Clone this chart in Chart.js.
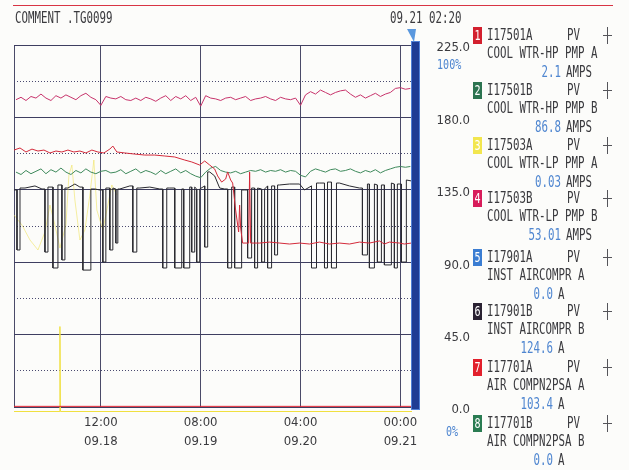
<!DOCTYPE html>
<html>
<head>
<meta charset="utf-8">
<script src="https://cdn.jsdelivr.net/npm/chart.js@4.4.0/dist/chart.umd.min.js"></script>
<style>
  html, body { margin: 0; padding: 0; background: #fcfcfa; }
</style>
</head>
<body>
<canvas id="myChart" width="629" height="470"></canvas>
<script>
// time axis: hours relative to 09.21 00:00, screen ends at 09.21 02:20
var hours = [-77,-76,-75,-74,-73,-72,-71,-70,-69,-68,-67,-66,-65,-64,-63,-62,-61,-60,-59,-58,
  -57,-56,-55,-54,-53,-52,-51,-50,-49,-48,-47,-46,-45,-44,-43,-42,-41,-40,-39,-38,
  -37,-36,-35,-34,-33,-32,-31,-30,-29,-28,-27,-26,-25,-24,-23,-22,-21,-20,-19,-18,
  -17,-16,-15,-14,-13,-12,-11,-10,-9,-8,-7,-6,-5,-4,-3,-2,-1,0,1,2]
var tickHours = [-60, -40, -20, 0]
var tickTimes = ['12:00', '08:00', '04:00', '00:00']
var tickDates = ['09.18', '09.19', '09.20', '09.21']
var yTicks = [0, 45, 90, 135, 180, 225]

// pen 4 (magenta) and pen 2 (green), one reading per hour, display units 0-225
var pen4Vals = [191,192.5,190.5,193,192,194.5,192,190.5,193.5,192,194,192.5,191,193.5,195,192.5,191,187.5,
  193,192,191.5,193,191,190.5,192,190.5,192.5,191.5,190,192,193.5,190.5,193,191.5,193.5,190.5,192.5,
  187,
  193.5,192,191.5,190.5,192,192.5,191,192,193,190.5,191.5,192,193,191.5,190.5,192.5,191.5,191,192,
  187.5,
  194,196,194.5,197,195.5,194,195.5,196.5,197,194.5,192.5,194,192,193.5,195,193,194.5,195.5,198,198.5,197.5,198]
var pen2Vals = [146,144.5,147,145,146.5,148,145,147.5,146,148.5,146,144.5,147,145.5,148,146,145,146.5,
  147,145.5,146,147.5,145,146.5,148,145.5,147,146,144.5,147,145,146.5,148,145.5,147,145,143.5,
  142.5,146,148.5,149.5,147,146,145.5,146.5,145,146,147,146.5,147.5,146,147,146.5,147.5,146,147,146.5,
  144,143,146.5,148,147,146,147.5,148,146.5,147,148,146.5,145.5,147,146,147.5,145.5,147,148,149,149.5,149,149.5]

// pen 7 (red) - irregular readings
var pen7Hours = [-77.4,-76.2,-75,-73.8,-72.6,-71.4,-70.2,-69,-67.8,-66.6,-65.4,-64.2,-63,-61.8,-60.6,-59.4,
  -58.2,-57.6,-56.8,-55.2,-53.2,-51.2,-49.2,-47.2,-45.2,-43.2,-41.8,-40.2,-39.2,-38.2,-37.2,-36.6,
  -35.8,-35,-34.6,-34,-33.6,-33,-32.4,-32.2,-32,-31.6,-30.4,-30.2,-30,-28.2,-26.2,-24.2,-22.2,-20.2,
  -18.2,-16.2,-14.2,-12.2,-10.2,-8.2,-6.2,-4.2,-3.2,-2.2,-0.2,0.8,2.2]
var pen7Vals = [159.7,161,158.5,160.3,159.1,159.7,157.9,159.1,158.5,159.7,158.5,159.1,157.9,159.7,158.5,157.9,
  160.3,162.2,158.5,157.9,157.2,156.6,156.6,156,155.4,153.5,152.3,150.4,152.9,150.4,147.9,143.6,
  139.8,141.7,146.1,141.1,139.2,122.4,108.8,125.5,111.2,101.9,101.9,146.1,101.9,101.9,102.5,101.9,101.3,101.9,
  101.3,102.5,101.3,101.9,101.3,102.5,101.9,103.2,101.3,102.5,101.9,101.3,101.9]

// pen 6 (black) - running level plus drop-outs
var pen6BaseHours = [-77.4,-75.2,-73.2,-71.8,-70.2,-68.2,-66.6,-65.2,-64.2,-61.2,-60.2,-58.2,-56.2,-54.2,-52.2,
  -50.2,-48.2,-46.2,-44.2,-42.2,-40.2,-39.2,-38.2,-37.2,-36.2,-35.2,-33.2,-31.2,-29.2,-27.2,-26.2,
  -24.2,-22.2,-20.2,-19.2,-17.8,-16.2,-14.2,-12.2,-10.2,-8.2,-6.2,-4.2,-2.2,-0.2,0.8,2.2]
var pen6BaseVals = [134.9,136.1,137.4,135.5,136.7,138,136.1,138.6,136.7,135.5,134.9,136.1,135.5,137.4,136.1,
  136.7,135.5,136.1,135.5,136.7,135.5,137.4,146.1,143.6,136.1,135.5,136.7,134.9,136.1,135.5,137.4,
  138,138.6,138.6,134.9,137.4,139.2,139.8,139.2,137.4,136.1,138.6,138,139.2,138.6,141.1,140.5]
var pen6DropStart = [-76.8,-71.2,-69.6,-67.8,-63.6,-59.6,-58.2,-57,-53.6,-47.6,-45.2,-43.4,-41.8,-40.8,-39.2,
  -34.6,-33.2,-30.6,-29.2,-27.8,-26.6,-25.2,-17.8,-15.2,-13.8,-7.6,-6.2,-4.6,-3.2,-1.2,0.2]
var pen6DropEnd = [-76.2,-70.6,-68.6,-67.2,-62,-59,-57.6,-56.6,-52.8,-46.8,-43.8,-42.2,-41.2,-40.2,-38.6,
  -33.8,-31.8,-29.8,-28.6,-27.2,-25.8,-24.6,-16.8,-14.6,-12.8,-6.6,-5.2,-3.8,-1.8,-0.6,1.2]
var pen6DropLow = [97.6,96.3,86.4,91.4,85.1,90.1,97.6,101.9,96.3,86.4,86.4,86.4,96.3,90.1,99.4,
  86.4,86.4,92.6,86.4,90.1,86.4,94.5,86.4,86.4,86.4,94.5,86.4,90.1,88.3,86.4,90.1]

// pen 3 (yellow) - faded older trace on the left, then resting on zero with one spike
var pen3OldHours = [-77.4,-75.8,-74.2,-72.6,-71.2,-70.2,-69.2,-68.2,-67,-66.4,-65.8,-65.2,-64.2,-63.2,-62.2,-61.4,-60.8,-59.6,-58.6,-57.8,-56.8]
var pen3OldVals = [119.3,113.1,103.8,97.6,108.8,125.5,113.1,98.8,113.1,144.2,150.4,128.7,103.8,110,131.8,153.5,122.4,110,125.5,138,131.8]
var pen3Hours = [-77.4,-68.2,-68.2,-68.1,2.33]
var pen3Vals = [-2.8,-2.8,50,-2.8,-2.8]

// pen 1 (red) sits on zero
var pen1Hours = [-77.4, 2.33]
var pen1Vals = [0.4, 0.4]

// legend / pen list
var penColors = ['#d3202e', '#2c7450', '#f2e64e', '#d81c5a', '#3b7dd2', '#2a2232', '#e2202c', '#2a7c52']
var penTags = ['I17501A', 'I17501B', 'I17503A', 'I17503B', 'I17901A', 'I17901B', 'I17701A', 'I17701B']
var penDescs = ['COOL WTR-HP PMP A', 'COOL WTR-HP PMP B', 'COOL WTR-LP PMP A', 'COOL WTR-LP PMP B',
  'INST AIRCOMPR A', 'INST AIRCOMPR B', 'AIR COMPN2PSA A', 'AIR COMPN2PSA B']
var penValues = ['2.1', '86.8', '0.03', '53.01', '0.0', '124.6', '103.4', '0.0']
var penUnits = ['AMPS', 'AMPS', 'AMPS', 'AMPS', 'A', 'A', 'A', 'A']
var penRowY = [36, 91, 146, 199, 258, 312, 368, 424]

var TICK_FONT = "'DejaVu Sans Condensed', 'DejaVu Sans', sans-serif"
var MONO = "'DejaVu Sans Mono', 'Liberation Mono', monospace"
var SX = 0.72   // recorder font is tall and narrow
var TEXT = '#3a3a3e'
var BLUE_TXT = '#4f86d0'
var X_MIN = -77.4, X_MAX = 2.33

function pairs(xs, ys) {
  return xs.map(function (x, i) { return { x: x, y: ys[i] } })
}

function nearestBase(h) {
  var best = 0
  pen6BaseHours.forEach(function (b, i) {
    if (Math.abs(b - h) < Math.abs(pen6BaseHours[best] - h)) best = i
  })
  return pen6BaseVals[best]
}

// build the black trace from its level and its drop-outs
var pen6Pts = []
pen6BaseHours.forEach(function (h, i) {
  var inside = pen6DropStart.some(function (s, j) { return h >= s && h <= pen6DropEnd[j] })
  if (!inside) pen6Pts.push({ x: h, y: pen6BaseVals[i] })
})
pen6DropStart.forEach(function (s, j) {
  var e = pen6DropEnd[j]
  pen6Pts.push({ x: s, y: nearestBase(s) }, { x: s, y: pen6DropLow[j] },
    { x: e, y: pen6DropLow[j] }, { x: e, y: nearestBase(e) })
})
pen6Pts.sort(function (a, b) { return a.x - b.x })

function line(label, data, color, extra) {
  var ds = { label: label, data: data, borderColor: color, borderWidth: 1, pointRadius: 0, tension: 0, fill: false }
  return Object.assign(ds, extra || {})
}

// narrow text, like the recorder print
function narrowText(ctx, txt, x, y, align, size) {
  ctx.save()
  ctx.translate(x, y)
  ctx.scale(SX, 1)
  ctx.font = (size || 15) + 'px ' + MONO
  ctx.textAlign = align || 'left'
  ctx.textBaseline = 'middle'
  ctx.fillText(txt, 0, 0)
  ctx.restore()
}

var recorderDecor = {
  id: 'recorderDecor',
  beforeDraw: function (chart) {
    var ctx = chart.ctx
    ctx.save()
    ctx.fillStyle = '#fcfcfa'
    ctx.fillRect(0, 0, chart.width, chart.height)
    // top red paper line
    ctx.strokeStyle = '#d83444'
    ctx.lineWidth = 1
    ctx.beginPath()
    ctx.moveTo(13, 5.5); ctx.lineTo(613, 5.5)
    ctx.stroke()
    ctx.fillStyle = TEXT
    narrowText(ctx, 'COMMENT .TG0099', 15, 19)
    narrowText(ctx, '09.21 02:20', 390, 19)
    ctx.restore()
  },
  afterDraw: function (chart) {
    var ctx = chart.ctx
    var area = chart.chartArea
    var y = chart.scales.y
    ctx.save()
    // current-time bar at the right edge
    ctx.fillStyle = '#1f3c94'
    ctx.fillRect(area.right - 1, area.top - 4, 9, area.bottom - area.top + 7)
    ctx.strokeStyle = '#4f7fd6'
    ctx.lineWidth = 1
    ctx.strokeRect(area.right - 0.5, area.top - 3.5, 8, area.bottom - area.top + 6)
    // marker triangle
    ctx.fillStyle = '#5a98de'
    ctx.beginPath()
    ctx.moveTo(area.right - 5, 29); ctx.lineTo(area.right + 4, 29); ctx.lineTo(area.right + 2, 42)
    ctx.closePath(); ctx.fill()
    // % labels of the scale
    ctx.fillStyle = BLUE_TXT
    narrowText(ctx, '100%', 437, y.getPixelForValue(225) + 20, 'left', 14)
    narrowText(ctx, '0%', 446, y.getPixelForValue(0) + 25, 'left', 14)
    // pen list
    penTags.forEach(function (tag, i) {
      var ry = penRowY[i]
      ctx.fillStyle = penColors[i]
      ctx.fillRect(473, ry - 9, 9, 17)
      ctx.fillStyle = '#ffffff'
      narrowText(ctx, String(i + 1), 477.5, ry, 'center', 14)
      ctx.fillStyle = TEXT
      narrowText(ctx, tag, 487, ry)
      narrowText(ctx, 'PV', 567, ry)
      narrowText(ctx, penDescs[i], 487, ry + 18)
      var amps = penUnits[i] === 'AMPS'
      ctx.fillStyle = BLUE_TXT
      narrowText(ctx, penValues[i], amps ? 561 : 553, ry + 37, 'right')
      ctx.fillStyle = TEXT
      narrowText(ctx, penUnits[i], amps ? 566 : 558, ry + 37)
      ctx.strokeStyle = '#55555a'
      ctx.beginPath()
      ctx.moveTo(607.5, ry - 9); ctx.lineTo(607.5, ry + 8)
      ctx.moveTo(603, ry - 0.5); ctx.lineTo(612, ry - 0.5)
      ctx.stroke()
    })
    ctx.restore()
  }
}

var ctx = document.getElementById('myChart').getContext('2d')

var chart = new Chart(ctx, {
  type: 'line',
  data: {
    datasets: [
      line('I17701A', pairs(pen7Hours, pen7Vals), '#d42a3a'),
      line('I17503B', pairs(hours, pen4Vals), '#c8346c'),
      line('I17501B', pairs(hours, pen2Vals), '#3f8a5c'),
      line('I17901B', pen6Pts, '#2a2a30'),
      line('I17501A', pairs(pen1Hours, pen1Vals), '#e02030'),
      line('I17503A', pairs(pen3Hours, pen3Vals), '#f0e040', { clip: 8 }),
      line('I17503A old', pairs(pen3OldHours, pen3OldVals), 'rgba(238,224,70,0.5)')
    ]
  },
  options: {
    responsive: false,
    animation: false,
    devicePixelRatio: 1,
    layout: { padding: { left: 14, top: 45, right: 159, bottom: 0 } },
    plugins: { legend: { display: false }, tooltip: { enabled: false } },
    scales: {
      x: {
        type: 'linear',
        min: X_MIN,
        max: X_MAX,
        afterBuildTicks: function (scale) {
          scale.ticks = [{ value: X_MIN }].concat(tickHours.map(function (h) { return { value: h } }))
        },
        afterFit: function (scale) { scale.height = 63 },
        grid: { color: '#4a4a68', lineWidth: 1, drawTicks: false },
        border: { display: false },
        ticks: {
          padding: 7,
          color: TEXT,
          font: { family: TICK_FONT, size: 13, lineHeight: 1.4 },
          maxRotation: 0,
          autoSkip: false,
          callback: function (v) {
            var i = tickHours.indexOf(v)
            return i < 0 ? '' : [tickTimes[i], tickDates[i]]
          }
        }
      },
      y: {
        position: 'right',
        min: 0,
        max: 225,
        afterBuildTicks: function (scale) {
          scale.ticks = yTicks.map(function (v) { return { value: v } })
        },
        afterFit: function (scale) { scale.width = 58 },
        grid: { color: '#3e3e60', lineWidth: 1, drawTicks: false },
        border: { display: false },
        ticks: {
          padding: 25,
          crossAlign: 'far',
          labelOffset: 3,
          color: TEXT,
          font: { family: TICK_FONT, size: 13 },
          callback: function (v) { return v.toFixed(1) }
        }
      },
      yMinor: {
        position: 'left',
        min: 0,
        max: 225,
        afterBuildTicks: function (scale) {
          scale.ticks = yTicks.slice(0, -1).map(function (v) { return { value: v + 22.5 } })
        },
        afterFit: function (scale) { scale.width = 0 },
        grid: { color: '#4a4a70', lineWidth: 1, drawTicks: false },
        border: { display: false, dash: [1, 2] },
        ticks: { display: false }
      }
    }
  },
  plugins: [recorderDecor]
})
</script>
</body>
</html>
